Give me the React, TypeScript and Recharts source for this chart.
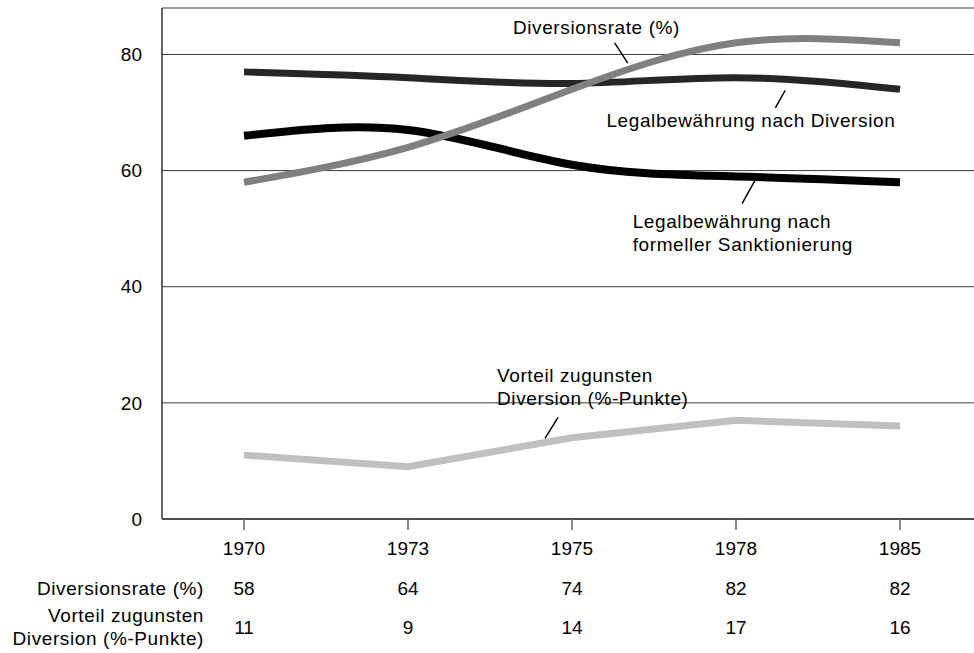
import { LineChart, Line, XAxis, YAxis, CartesianGrid, ReferenceLine, ReferenceDot } from 'recharts';

const years = ['1970', '1973', '1975', '1978', '1985'];
const diversionsrate = [58, 64, 74, 82, 82];
const legalDiversion = [77, 76, 75, 76, 74];
const legalFormell = [66, 67, 61, 59, 58];
const vorteil = [11, 9, 14, 17, 16];
const yTicks = [0, 20, 40, 60, 80];

const rowLabels = ['Diversionsrate (%)', ['Vorteil zugunsten', 'Diversion (%-Punkte)']];

const data = years.map((year, i) => ({
  i,
  year,
  diversionsrate: diversionsrate[i],
  legalDiversion: legalDiversion[i],
  legalFormell: legalFormell[i],
  vorteil: vorteil[i],
}));

// annotation anchors, in axis units (x = category index, y = percent)
const notes = [
  { x: 1.64, y: 84.6, lines: ['Diversionsrate (%)'], from: { x: 2.26, y: 82.0 }, to: { x: 2.34, y: 78.5 } },
  { x: 2.21, y: 68.6, lines: ['Legalbewährung nach Diversion'], from: { x: 3.3, y: 73.8 }, to: { x: 3.24, y: 70.8 } },
  { x: 2.37, y: 51.2, lines: ['Legalbewährung nach', 'formeller Sanktionierung'], from: { x: 3.116, y: 58.3 }, to: { x: 3.037, y: 54.3 } },
  { x: 1.543, y: 24.75, lines: ['Vorteil zugunsten', 'Diversion (%-Punkte)'], from: { x: 1.915, y: 17.5 }, to: { x: 1.835, y: 13.9 } },
];

const font = '"Liberation Sans", Arial, sans-serif';
const fontSize = 19;
const spacing = 0.6;

const NoteText = ({ cx, cy, lines }: any) => (
  <text x={cx} y={cy} fontFamily={font} fontSize={fontSize} letterSpacing={spacing} fill="#000">
    {lines.map((l: string, k: number) => (
      <tspan key={k} x={cx} dy={k === 0 ? '0.35em' : 23}>{l}</tspan>
    ))}
  </text>
);

const YearTick = ({ x, y, payload }: any) => {
  const idx = payload.value;
  const t = { fontFamily: font, fontSize, fill: '#000' };
  return (
    <g>
      <text x={x} y={y} dy="0.71em" textAnchor="middle" {...t}>{years[idx]}</text>
      <text x={x} y={y + 46} dominantBaseline="central" textAnchor="middle" {...t}>{diversionsrate[idx]}</text>
      <text x={x} y={y + 85} dominantBaseline="central" textAnchor="middle" {...t}>{vorteil[idx]}</text>
      {idx === 0 && (
        <g letterSpacing={spacing}>
          <text x={x - 40} y={y + 46} dominantBaseline="central" textAnchor="end" {...t}>{rowLabels[0]}</text>
          <text x={x - 40} y={y + 73} dominantBaseline="central" textAnchor="end" {...t}>{rowLabels[1][0]}</text>
          <text x={x - 40} y={y + 96} dominantBaseline="central" textAnchor="end" {...t}>{rowLabels[1][1]}</text>
        </g>
      )}
    </g>
  );
};

export default function App() {
  return (
    <div style={{ position: 'fixed', left: 0, top: 0, width: 974, height: 653, overflow: 'hidden', background: '#fff' }}>
      <LineChart width={990} height={653} data={data} margin={{ top: 8, right: 8, left: 0, bottom: 0 }}>
        <CartesianGrid vertical={false} stroke="#3a3a3a" strokeWidth={1} />
        <XAxis
          dataKey="i"
          type="number"
          domain={[-0.5, 4.5]}
          ticks={[0, 1, 2, 3, 4]}
          height={134}
          axisLine={{ stroke: '#333', strokeWidth: 1.5 }}
          tickLine={{ stroke: '#666', strokeWidth: 1.5 }}
          tickSize={11}
          tickMargin={12}
          tick={<YearTick />}
          interval={0}
        />
        <YAxis
          domain={[0, 88]}
          ticks={yTicks}
          width={162}
          axisLine={{ stroke: '#333', strokeWidth: 1.5 }}
          tickLine={false}
          tickSize={0}
          tickMargin={20}
          tick={{ fontFamily: font, fontSize, fill: '#000' }}
        />
        <Line type="linear" dataKey="vorteil" stroke="#c0c0c0" strokeWidth={7} dot={false} activeDot={false} isAnimationActive={false} />
        <Line type="natural" dataKey="legalFormell" stroke="#000" strokeWidth={8} dot={false} activeDot={false} isAnimationActive={false} />
        <Line type="natural" dataKey="legalDiversion" stroke="#262626" strokeWidth={7} dot={false} activeDot={false} isAnimationActive={false} />
        <Line type="natural" dataKey="diversionsrate" stroke="#808080" strokeWidth={7} dot={false} activeDot={false} isAnimationActive={false} />
        {notes.map((n, k) => (
          <ReferenceLine key={'l' + k} segment={[n.from, n.to]} stroke="#000" strokeWidth={1.5} />
        ))}
        {notes.map((n, k) => (
          <ReferenceDot key={'t' + k} x={n.x} y={n.y} r={0} ifOverflow="visible" shape={(p: any) => <NoteText {...p} lines={n.lines} />} />
        ))}
      </LineChart>
    </div>
  );
}
